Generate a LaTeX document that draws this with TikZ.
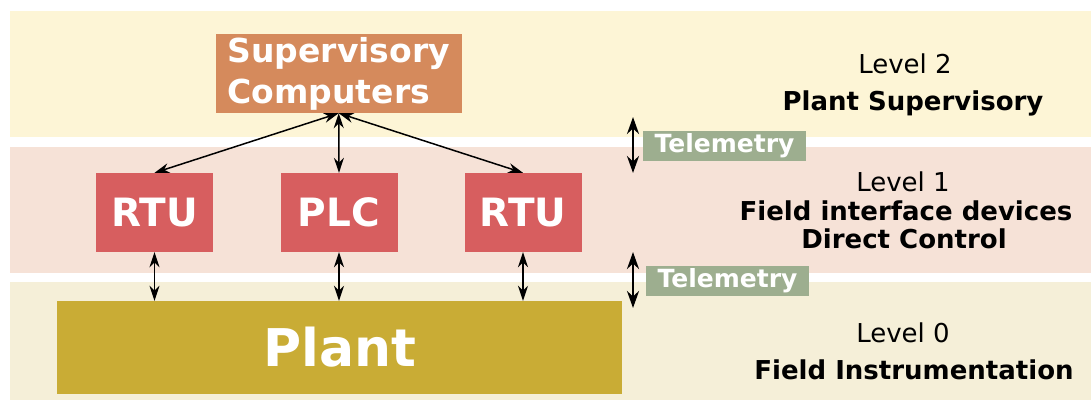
\documentclass[tikz,border=0pt]{standalone}
\usepackage{fontspec}
\setmainfont{DejaVu Sans}
\usetikzlibrary{arrows.meta,positioning}
\definecolor{lvltwo}{HTML}{FDF5D6}
\definecolor{lvlone}{HTML}{F6E2D7}
\definecolor{lvlzero}{HTML}{F5EFD8}
\definecolor{supfill}{HTML}{D58A5C}
\definecolor{devfill}{HTML}{D75E5F}
\definecolor{plantfill}{HTML}{C9AC35}
\definecolor{telfill}{HTML}{9DAE8F}

\begin{document}
\begin{tikzpicture}[x=1pt, y=-1pt]
  \tikzstyle{dev}=[fill=devfill,text=white,font=\fontsize{39}{44}\selectfont\bfseries,minimum width=117pt,minimum height=79pt,inner sep=0pt]
  \tikzstyle{tel}=[fill=telfill,text=white,font=\fontsize{25}{28}\selectfont\bfseries,minimum width=163pt,minimum height=30pt,inner sep=0pt]
  \tikzstyle{lvl}=[font=\fontsize{26}{30}\selectfont,inner sep=0pt]
  \tikzstyle{lvlname}=[font=\fontsize{26}{30}\selectfont\bfseries,inner sep=0pt]
  \tikzstyle{link}=[{Stealth[length=15pt,width=10pt]}-{Stealth[length=15pt,width=10pt]},line width=1.5pt]
  \tikzstyle{uplink}=[{Stealth[length=17pt,width=12pt]}-{Stealth[length=17pt,width=12pt]},line width=2.6pt]
  \useasboundingbox (0,0) rectangle (1091,401);
  % level bands
  \fill[lvltwo] (10,11) rectangle (1091,137);
  \fill[lvlone] (10,147) rectangle (1091,273);
  \fill[lvlzero] (10,282) rectangle (1091,400);
  % boxes
  \node[fill=supfill,text=white,font=\fontsize{33}{41}\selectfont\bfseries,align=left,minimum width=246pt,minimum height=79pt,inner sep=0pt] (sup) at (338.7,73.5) {Supervisory\\Computers};
  \node[dev] (rtuA) at (154.5,212.5) {RTU};
  \node[dev] (plc) at (339,212.5) {PLC};
  \node[dev] (rtuB) at (523,212.5) {RTU};
  \node[fill=plantfill,text=white,font=\fontsize{52}{58}\selectfont\bfseries,minimum width=565pt,minimum height=93pt,inner sep=0pt] (plant) at (339.5,347.5) {Plant};
  \draw[link] (sup.south) -- (rtuA.north);
  \draw[link] (sup.south) -- (plc.north);
  \draw[link] (sup.south) -- (rtuB.north);
  \draw[link] (rtuA.south) -- (rtuA.south |- plant.north);
  \draw[link] (plc.south) -- (plc.south |- plant.north);
  \draw[link] (rtuB.south) -- (rtuB.south |- plant.north);
  % telemetry
  \coordinate (t1a) at (633,117);
  \coordinate (t1b) at (633,173);
  \coordinate (t2a) at (633,252);
  \coordinate (t2b) at (633,308);
  \draw[uplink] (t1a) -- (t1b);
  \draw[uplink] (t2a) -- (t2b);
  \node[tel] (tel1) at (724.5,145.5) {Telemetry};
  \node[tel] (tel2) at (727.5,281) {Telemetry};
  % level texts
  \node[lvl] (lvl2) at (905,64) {Level 2};
  \node[lvlname] (name2) at (913,103) {Plant Supervisory};
  \node[lvl] (lvl1) at (903,182) {Level 1};
  \node[lvlname] (name1) at (906,211) {Field interface devices};
  \node[lvlname] (ctl1) at (904,239) {Direct Control};
  \node[lvl] (lvl0) at (903,333) {Level 0};
  \node[lvlname] (name0) at (914,370) {Field Instrumentation};
\end{tikzpicture}
\end{document}
